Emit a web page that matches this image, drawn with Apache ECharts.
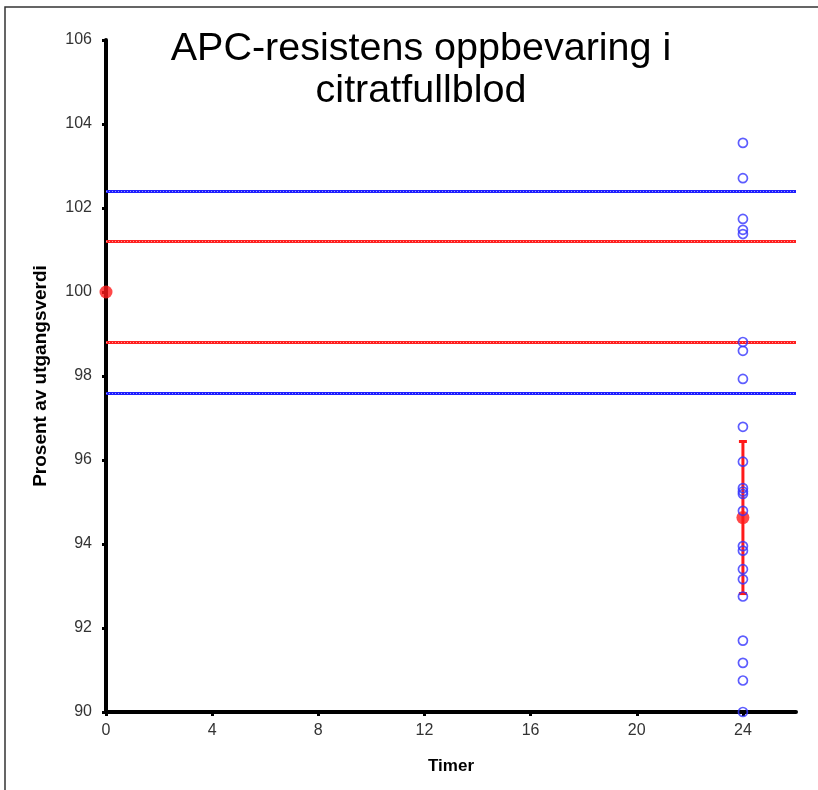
<!DOCTYPE html>
<html>
<head>
<meta charset="utf-8">
<script src="https://cdn.jsdelivr.net/npm/echarts@6/dist/echarts.min.js"></script>
<style>
  html, body { margin: 0; padding: 0; background: #fff; }
  #chart { width: 818px; height: 790px; }
</style>
</head>
<body>
<div id="chart"></div>
<script>
// data
const xTicks = [0, 4, 8, 12, 16, 20, 24];
const yTicks = [90, 92, 94, 96, 98, 100, 102, 104, 106];
const baseline = [[0, 100]];
const sampleHour = 24;
const sampleValues = [
  103.55, 102.71, 101.74, 101.48, 101.38, 98.81, 98.6, 97.93, 96.79,
  95.96, 95.33, 95.25, 95.19, 94.79, 93.95, 93.84, 93.4, 93.16, 92.75,
  91.7, 91.17, 90.75, 90.0,
];
const meanValue = 94.63;
const sdValue = 1.81;
const redLimits = [101.2, 98.8];
const blueLimits = [102.4, 97.6];

const fontFamily = "Liberation Sans, Arial, sans-serif";

function limitLines(values, color) {
  const solid = values.map((v) => ({
    yAxis: v,
    lineStyle: { color, width: 3, type: "solid" },
  }));
  const dots = values.map((v) => ({
    yAxis: v,
    lineStyle: { color: "rgba(255,255,255,0.55)", width: 1, type: [1, 2] },
  }));
  return solid.concat(dots);
}

const chart = echarts.init(document.getElementById("chart"));

const option = {
  animation: false,
  backgroundColor: "#fff",
  textStyle: { fontFamily },
  title: {
    text: "APC-resistens oppbevaring i\ncitratfullblod",
    left: 416,
    top: 23,
    textAlign: "center",
    textStyle: {
      fontFamily,
      fontSize: 39.5,
      fontWeight: "normal",
      color: "#000",
      lineHeight: 42,
    },
  },
  grid: { left: 106, right: 22, top: 40, bottom: 78, containLabel: false },
  xAxis: {
    type: "value",
    min: 0,
    max: 26,
    interval: 4,
    name: "Timer",
    nameLocation: "middle",
    nameGap: 46,
    nameTextStyle: { fontFamily, fontSize: 17, fontWeight: "bold", color: "#000" },
    axisLine: { lineStyle: { color: "#000", width: 4 } },
    axisTick: { length: 4, lineStyle: { color: "#000", width: 3 } },
    axisLabel: {
      fontFamily,
      fontSize: 16,
      color: "#333",
      margin: 11,
      showMaxLabel: false,
      formatter: (v) => (xTicks.includes(v) ? String(v) : ""),
    },
    splitLine: { show: false },
  },
  yAxis: {
    type: "value",
    min: 90,
    max: 106,
    interval: 2,
    name: "Prosent av utgangsverdi",
    nameLocation: "middle",
    nameRotate: 90,
    nameGap: 56,
    nameTextStyle: { fontFamily, fontSize: 19, fontWeight: "bold", color: "#000" },
    axisLine: { lineStyle: { color: "#000", width: 4 } },
    axisTick: { length: 4, lineStyle: { color: "#000", width: 3 } },
    axisLabel: {
      fontFamily,
      fontSize: 16,
      color: "#333",
      margin: 14,
      formatter: (v) => (yTicks.includes(v) ? String(v) : ""),
    },
    splitLine: { show: false },
  },
  graphic: [
    {
      type: "polyline",
      shape: { points: [[5, 790], [5, 7], [818, 7]] },
      style: { stroke: "#333", lineWidth: 1.5, fill: null },
    },
  ],
  series: [
    {
      name: "limits",
      type: "line",
      data: [],
      silent: true,
      markLine: {
        symbol: "none",
        silent: true,
        label: { show: false },
        data: limitLines(blueLimits, "#1f1fff").concat(limitLines(redLimits, "#ff2020")),
      },
    },
    {
      name: "sd",
      type: "custom",
      z: 3,
      data: [[sampleHour, meanValue - sdValue, meanValue + sdValue]],
      renderItem(params, api) {
        const lo = api.coord([api.value(0), api.value(1)]);
        const hi = api.coord([api.value(0), api.value(2)]);
        const cap = 4;
        const style = { stroke: "#ff1a1a", lineWidth: 3 };
        return {
          type: "group",
          children: [
            { type: "line", shape: { x1: lo[0], y1: lo[1], x2: hi[0], y2: hi[1] }, style },
            { type: "line", shape: { x1: lo[0] - cap, y1: lo[1], x2: lo[0] + cap, y2: lo[1] }, style },
            { type: "line", shape: { x1: hi[0] - cap, y1: hi[1], x2: hi[0] + cap, y2: hi[1] }, style },
          ],
        };
      },
    },
    {
      name: "mean",
      type: "scatter",
      z: 4,
      symbolSize: 13,
      itemStyle: { color: "#ff1a1a" },
      data: baseline.concat([[sampleHour, meanValue]]),
    },
    {
      name: "samples",
      type: "scatter",
      z: 5,
      symbol: "circle",
      symbolSize: 9,
      itemStyle: { color: "transparent", borderColor: "#3535ff", borderWidth: 1.7 },
      data: sampleValues.map((v) => [sampleHour, v]),
    },
  ],
};

chart.setOption(option);
</script>
</body>
</html>
